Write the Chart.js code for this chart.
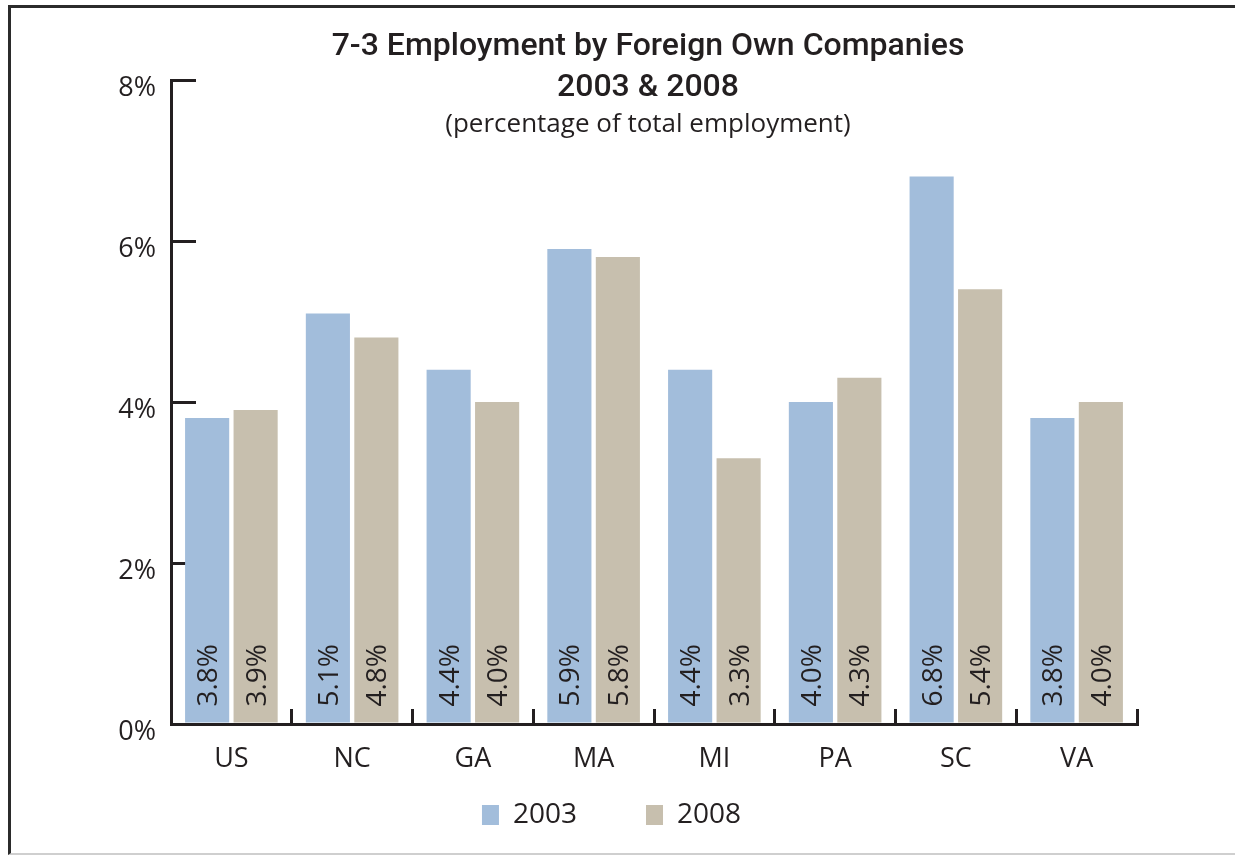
<!DOCTYPE html>
<html>
<head>
<meta charset="utf-8">
<script src="https://cdn.jsdelivr.net/npm/chart.js@4"></script>
<style>
  html, body { margin: 0; padding: 0; background: #fff; }
  #wrap { position: relative; width: 1235px; height: 855px; overflow: hidden; }
  #frame { position: absolute; left: 8px; top: 5px; right: -5px; bottom: 0px;
           border-top: 3px solid #2b2b2b; border-left: 3px solid #2b2b2b; border-bottom: 2px solid #cfcfcf;
           pointer-events: none; }
  canvas { position: absolute; left: 0; top: 0; }
</style>
</head>
<body>
<div id="wrap">
  <canvas id="c" width="1235" height="855"></canvas>
  <div id="frame"></div>
</div>
<script>
const categories = ['US', 'NC', 'GA', 'MA', 'MI', 'PA', 'SC', 'VA'];
const values2003 = [3.8, 5.1, 4.4, 5.9, 4.4, 4.0, 6.8, 3.8];
const values2008 = [3.9, 4.8, 4.0, 5.8, 3.3, 4.3, 5.4, 4.0];
const seriesNames = ['2003', '2008'];
const yTicks = [0, 2, 4, 6, 8];
const titleLines = ['7-3 Employment by Foreign Own Companies', '2003 & 2008'];
const subtitleText = '(percentage of total employment)';

const TEXT = '#231f20';
const BLUE = '#a2bddb';
const BEIGE = '#c7bfae';

const titlePlugin = {
  id: 'titleText',
  afterDraw(chart) {
    const ctx = chart.ctx;
    ctx.save();
    ctx.fillStyle = TEXT;
    ctx.textAlign = 'center';
    ctx.textBaseline = 'middle';
    const cx = 648;
    ctx.font = '500 32px Roboto';
    ctx.fillText(titleLines[0], cx, 47);
    ctx.fillText(titleLines[1], cx, 88);
    ctx.font = '26px "Open Sans"';
    ctx.fillText(subtitleText, cx, 125);
    ctx.restore();
  }
};

const barLabelPlugin = {
  id: 'barLabels',
  afterDatasetsDraw(chart) {
    const ctx = chart.ctx;
    ctx.save();
    ctx.fillStyle = TEXT;
    ctx.font = '28px "Open Sans"';
    ctx.textAlign = 'left';
    ctx.textBaseline = 'alphabetic';
    chart.data.datasets.forEach((ds, di) => {
      const meta = chart.getDatasetMeta(di);
      meta.data.forEach((bar, i) => {
        const txt = ds.data[i].toFixed(1) + '%';
        ctx.save();
        ctx.translate(bar.x, bar.base - 16);
        ctx.rotate(-Math.PI / 2);
        ctx.fillText(txt, 0, 10);
        ctx.restore();
      });
    });
    ctx.restore();
  }
};

new Chart(document.getElementById('c'), {
  type: 'bar',
  data: {
    labels: categories,
    datasets: [
      { label: seriesNames[0], data: values2003, backgroundColor: BLUE, borderWidth: 0 },
      { label: seriesNames[1], data: values2008, backgroundColor: BEIGE, borderWidth: 0 }
    ]
  },
  options: {
    responsive: false,
    animation: false,
    devicePixelRatio: 1,
    layout: { padding: { left: 0, right: 12, top: 80, bottom: 16 } },
    datasets: { bar: { categoryPercentage: 0.803, barPercentage: 0.91 } },
    plugins: {
      title: { display: false },
      tooltip: { enabled: false },
      legend: {
        display: true,
        position: 'bottom',
        labels: {
          color: TEXT,
          font: { family: 'Open Sans', size: 28 },
          boxWidth: 17,
          boxHeight: 20,
          padding: 69
        }
      }
    },
    scales: {
      x: {
        type: 'category',
        offset: true,
        afterFit(scale) { scale.height = 8; },
        border: { display: true, color: TEXT, width: 3 },
        grid: { display: true, offset: true, drawOnChartArea: false, drawTicks: true, tickLength: -15, color: TEXT, lineWidth: 3 },
        ticks: { color: TEXT, font: { family: 'Open Sans', size: 27 }, padding: -52, mirror: true, maxRotation: 0, autoSkip: false }
      },
      y: {
        min: 0, max: 8,
        afterFit(scale) { scale.width = 171; },
        afterBuildTicks(scale) { scale.ticks = yTicks.map(v => ({ value: v })); },
        border: { display: true, color: TEXT, width: 3 },
        grid: { display: true, drawOnChartArea: false, drawTicks: true, tickLength: -25, color: TEXT, lineWidth: 3 },
        ticks: { color: TEXT, font: { family: 'Open Sans', size: 27 }, padding: 40, labelOffset: 8,
                 callback: v => v + '%' }
      },
      yRight: {
        position: 'right',
        display: true,
        afterFit(scale) { scale.width = 86; },
        border: { display: false },
        grid: { display: false, drawTicks: false },
        ticks: { display: false }
      }
    }
  },
  plugins: [titlePlugin, barLabelPlugin]
});
</script>
</body>
</html>
